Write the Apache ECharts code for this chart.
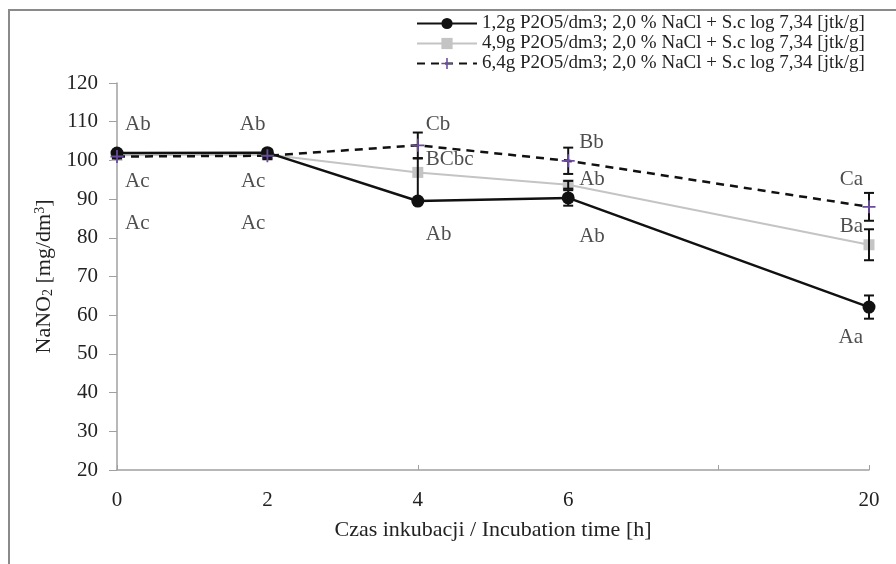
<!DOCTYPE html>
<html>
<head>
<meta charset="utf-8">
<script src="https://cdn.jsdelivr.net/npm/echarts@6/dist/echarts.min.js"></script>
<style>
  html, body { margin: 0; padding: 0; background: #fff; }
  #chart { width: 896px; height: 564px; }
</style>
</head>
<body>
<div id="chart"></div>
<script>
// Incubation time categories (the 5th slot is an unlabelled gap before 20 h)
var hours = ['0', '2', '4', '6', '', '20'];

var seriesNames = [
  '1,2g P2O5/dm3; 2,0 % NaCl + S.c log 7,34 [jtk/g]',
  '4,9g P2O5/dm3; 2,0 % NaCl + S.c log 7,34 [jtk/g]',
  '6,4g P2O5/dm3; 2,0 % NaCl + S.c log 7,34 [jtk/g]'
];

// NaNO2 means [mg/dm3]
var nitrite12 = [101.9, 102.0, 89.5, 90.3, null, 62.1];
var nitrite49 = [101.3, 101.5, 96.9, 93.7, null, 78.2];
var nitrite64 = [101.0, 101.2, 103.9, 99.9, null, 88.0];

// error bars (minus / plus)
var errLow12 = [0.8, 0.8, 0, 2.0, null, 3.0];
var errHigh12 = [0.8, 0.8, 11.0, 2.0, null, 3.0];
var errLow49 = [0.6, 1.2, 0, 1.0, null, 4.0];
var errHigh49 = [0.6, 1.2, 0, 1.0, null, 4.0];
var errLow64 = [0.5, 0.5, 3.3, 3.4, null, 3.6];
var errHigh64 = [0.5, 0.5, 3.3, 3.4, null, 3.6];

// significance letters and the level (mg/dm3) where each is written
var letters12 = ['Ac', 'Ac', 'Ab', 'Ab', null, 'Aa'];
var letterLevel12 = [83.7, 83.7, 80.9, 80.4, null, 54.2];
var letters49 = ['Ac', 'Ac', 'BCbc', 'Ab', null, 'Ba'];
var letterLevel49 = [94.6, 94.6, 100.3, 95.1, null, 83.0];
var letters64 = ['Ab', 'Ab', 'Cb', 'Bb', null, 'Ca'];
var letterLevel64 = [109.4, 109.4, 109.4, 104.7, null, 95.1];

var serif = 'Liberation Serif, Times New Roman, serif';
var plusPath = 'path://M4.3,0 H5.7 V4.3 H10 V5.7 H5.7 V10 H4.3 V5.7 H0 V4.3 H4.3 Z';

var chart = echarts.init(document.getElementById('chart'));

function errorSeries(values, lo, hi) {
  var data = [];
  values.forEach(function (v, i) {
    if (v == null) return;
    data.push([i, v, v - lo[i], v + hi[i]]);
  });
  return {
    type: 'custom',
    silent: true,
    z: 4,
    encode: { x: 0, y: [1, 2, 3] },
    renderItem: function (params, api) {
      var x = api.value(0);
      var v = api.value(1);
      var low = api.value(2);
      var high = api.value(3);
      var pTop = api.coord([x, high]);
      var pBot = api.coord([x, low]);
      var hw = 5;
      var st = { stroke: '#111', lineWidth: 2 };
      var kids = [
        { type: 'line', shape: { x1: pTop[0], y1: pTop[1], x2: pBot[0], y2: pBot[1] }, style: st }
      ];
      if (high > v) kids.push({ type: 'line', shape: { x1: pTop[0] - hw, y1: pTop[1], x2: pTop[0] + hw, y2: pTop[1] }, style: st });
      if (low < v) kids.push({ type: 'line', shape: { x1: pBot[0] - hw, y1: pBot[1], x2: pBot[0] + hw, y2: pBot[1] }, style: st });
      return { type: 'group', children: kids };
    },
    data: data
  };
}

function letterSeries(texts, levels) {
  var data = [];
  texts.forEach(function (t, i) {
    if (t == null) return;
    // at 2 h and 20 h the letters sit left of the point
    var leftSide = (i === 1 || i === 5);
    data.push({
      value: [i, levels[i]],
      label: {
        position: leftSide ? 'left' : 'right',
        distance: leftSide ? (i === 1 ? 2 : 6) : (i === 3 ? 11 : 8),
        formatter: t
      }
    });
  });
  return {
    type: 'scatter',
    silent: true,
    symbolSize: 0,
    z: 6,
    label: {
      show: true,
      color: '#222',
      fontFamily: serif,
      fontSize: 21
    },
    data: data
  };
}

var option = {
  animation: false,
  backgroundColor: '#fff',
  textStyle: { fontFamily: serif },
  graphic: [
    {
      type: 'rect',
      shape: { x: 9, y: 10, width: 1000, height: 1000 },
      style: { fill: 'none', stroke: '#8a8a8a', lineWidth: 2 },
      silent: true
    }
  ],
  legend: {
    orient: 'vertical',
    left: 411,
    top: 9,
    itemWidth: 60,
    itemHeight: 14,
    itemGap: 1,
    textStyle: { fontFamily: serif, fontSize: 19, lineHeight: 14, color: '#222' },
    data: seriesNames
  },
  grid: { left: 117, right: 27, top: 83, bottom: 94 },
  xAxis: {
    type: 'category',
    data: hours,
    boundaryGap: false,
    name: 'Czas inkubacji / Incubation time [h]',
    nameLocation: 'middle',
    nameGap: 49,
    nameTextStyle: { fontFamily: serif, fontSize: 22, color: '#222' },
    axisLine: { lineStyle: { color: '#a0a0a0', width: 1.5 } },
    axisTick: { show: true, inside: true, length: 5, interval: 1, lineStyle: { color: '#a0a0a0' } },
    axisLabel: { interval: 0, margin: 20, fontFamily: serif, fontSize: 21, color: '#222' },
    splitLine: { show: false }
  },
  yAxis: {
    type: 'value',
    min: 20,
    max: 120,
    interval: 10,
    name: 'NaNO{sub|2} [mg/dm{sup|3}]',
    nameLocation: 'middle',
    nameRotate: 90,
    nameGap: 54,
    nameTextStyle: {
      fontFamily: serif,
      fontSize: 22,
      color: '#222',
      rich: {
        sub: { fontFamily: serif, fontSize: 14, color: '#222', verticalAlign: 'bottom', padding: [8, 0, 0, 0] },
        sup: { fontFamily: serif, fontSize: 14, color: '#222', verticalAlign: 'top', padding: [0, 0, 8, 0] }
      }
    },
    axisLine: { show: true, lineStyle: { color: '#a0a0a0', width: 1.5 } },
    axisTick: { show: true, length: 8, lineStyle: { color: '#a0a0a0' } },
    axisLabel: { margin: 19, fontFamily: serif, fontSize: 21, color: '#222' },
    splitLine: { show: false }
  },
  series: [
    {
      name: seriesNames[1],
      type: 'line',
      data: nitrite49,
      connectNulls: true,
      symbol: 'rect',
      symbolSize: 11,
      z: 3,
      lineStyle: { color: '#c4c4c4', width: 2 },
      itemStyle: { color: '#c4c4c4' }
    },
    {
      name: seriesNames[0],
      type: 'line',
      data: nitrite12,
      connectNulls: true,
      symbol: 'circle',
      symbolSize: 13,
      z: 3,
      lineStyle: { color: '#111', width: 2.5 },
      itemStyle: { color: '#111' }
    },
    {
      name: seriesNames[2],
      type: 'line',
      data: nitrite64,
      connectNulls: true,
      symbol: plusPath,
      symbolSize: 13,
      z: 5,
      lineStyle: { color: '#111', width: 2.5, type: [8, 6] },
      itemStyle: { color: '#6a4c9c' }
    },
    errorSeries(nitrite12, errLow12, errHigh12),
    errorSeries(nitrite49, errLow49, errHigh49),
    errorSeries(nitrite64, errLow64, errHigh64),
    letterSeries(letters12, letterLevel12),
    letterSeries(letters49, letterLevel49),
    letterSeries(letters64, letterLevel64)
  ]
};

chart.setOption(option);
</script>
</body>
</html>
